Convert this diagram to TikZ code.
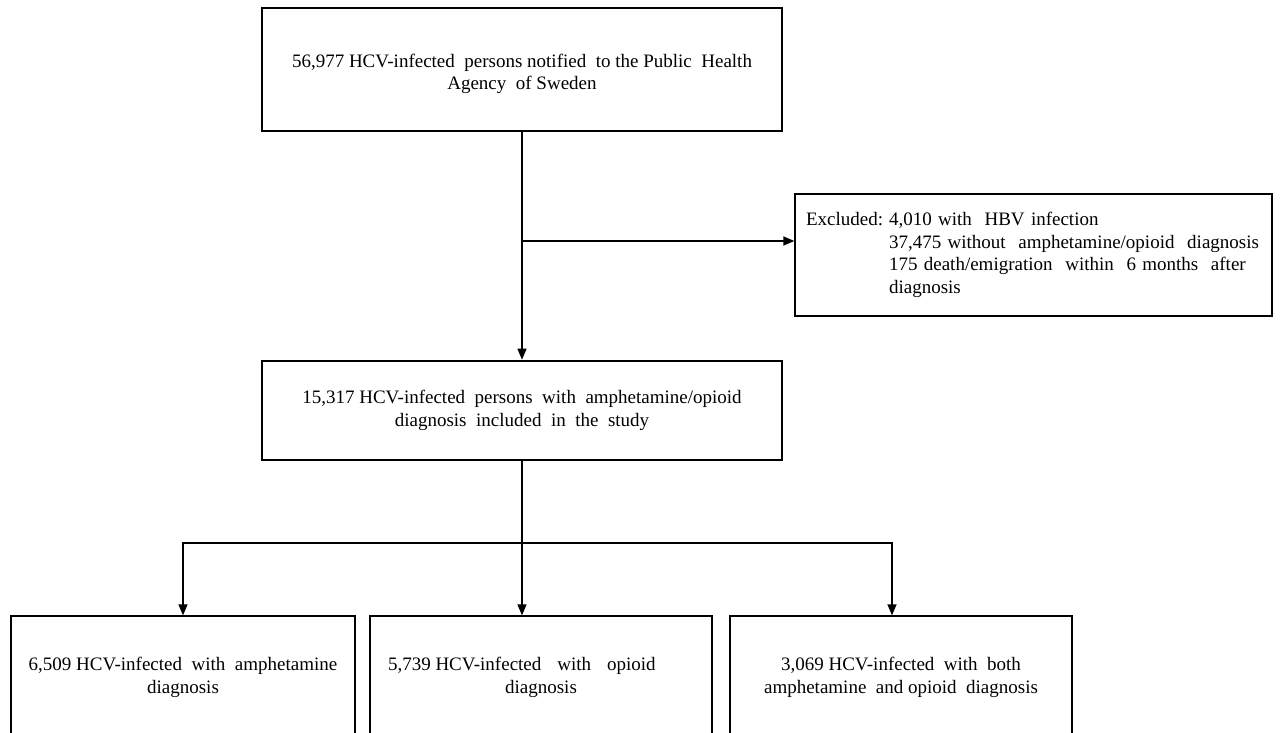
\documentclass[tikz,border=0pt]{standalone}
\usepackage{fontspec}
\setmainfont{Liberation Serif}
\usetikzlibrary{arrows.meta}
\begin{document}
\begin{tikzpicture}[x=1pt,y=-1pt,
  box/.style={draw=black, line width=1.3pt, align=center, inner sep=0pt,
    font=\fontsize{19}{22.5}\selectfont},
  thickbox/.style={box, line width=2.6pt},
  ln/.style={line width=1.3pt},
  arr/.style={line width=1.3pt, -{Triangle[length=11pt,width=9pt]}}]
\useasboundingbox (0,0) rectangle (1281,732);
\clip (0,0) rectangle (1281,732);
% boxes
\node[box, minimum width=520, minimum height=123] (top) at (522,69.5)
  {\rule{0pt}{22pt}56,977 HCV-infected\ \ persons notified\ \ to the Public\ \ Health\\Agency\ \ of Sweden};
\node[box, minimum width=477, minimum height=122, text width=455, inner xsep=11pt, align=left] (excl) at (1033.5,255)
  {\begin{tabular}{@{}l@{\hspace{6pt}}l@{}}
   Excluded: & 4,010 with\ \ HBV infection\\
             & 37,475 without\ \ amphetamine/opioid\ \ diagnosis\\
             & 175 death/emigration\ \ within\ \ 6 months\ \ after\\
             & diagnosis
   \end{tabular}};
\node[thickbox, minimum width=520, minimum height=99] (mid) at (522,410.5)
  {15,317 HCV-infected\ \ persons\ \ with\ \ amphetamine/opioid\\diagnosis\ \ included\ \ in\ \ the\ \ study};
\node[box, minimum width=344, minimum height=123] (b1) at (183,677.5)
  {6,509 HCV-infected\ \ with\ \ amphetamine\\diagnosis};
\node[box, minimum width=342, minimum height=123] (b2) at (541,677.5)
  {\makebox[306pt][l]{5,739 HCV-infected\hspace{16pt}with\hspace{16pt}opioid}\\diagnosis};
\node[box, minimum width=342, minimum height=123] (b3) at (901,677.5)
  {3,069 HCV-infected\ \ with\ \ both\\amphetamine\ \ and opioid\ \ diagnosis};
% connectors
\coordinate (br) at (522,241);
\coordinate (bus) at (522,543);
\draw[arr] (top.south) -- (mid.north);
\draw[arr] (br) -- (br -| excl.west);
\draw[ln] (mid.south) -- (bus);
\draw[arr] (bus) -- (bus |- b2.north);
\draw[arr] (bus) -| (b1.north);
\draw[arr] (bus) -| ([xshift=-9pt]b3.north);
\end{tikzpicture}
\end{document}
